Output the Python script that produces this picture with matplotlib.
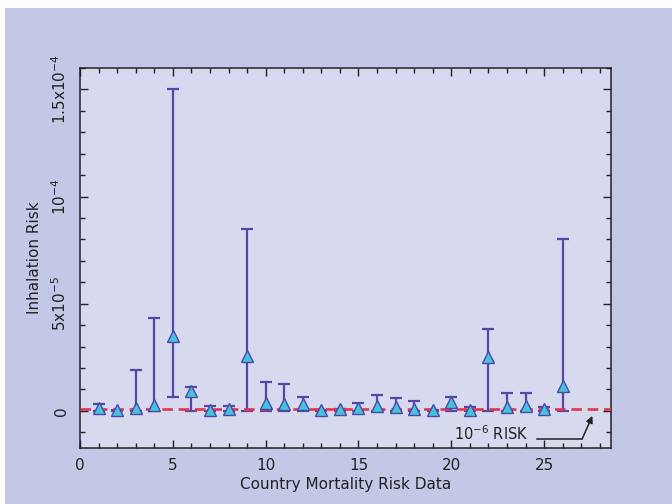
import matplotlib
matplotlib.use("Agg")
import matplotlib.pyplot as plt
from matplotlib.patches import Rectangle
from matplotlib.ticker import MultipleLocator, FixedLocator
import numpy as np

# Country index on the x axis
countries = list(range(1, 27))
# Central inhalation risk estimate (units of 1e-6)
central = [1.5, 0.6, 1.2, 2.8, 35.0, 9.3, 0.6, 0.8, 25.5, 3.5, 3.0, 3.3, 0.3,
           0.8, 1.4, 2.5, 1.9, 1.0, 0.3, 4.0, 0.4, 25.0, 2.0, 2.5, 1.0, 11.5]
# Upper bound of the range (units of 1e-6)
upper = [3.0, 0.6, 19.0, 43.5, 150.0, 11.0, 2.2, 2.2, 85.0, 13.5, 12.5, 6.7, 0.3,
         0.8, 3.7, 7.6, 6.0, 4.8, 0.3, 6.5, 2.0, 38.0, 8.4, 8.4, 2.0, 80.0]
# Lower bound of the range (units of 1e-6)
lower = [0.0, 0.0, 0.0, 0.0, 6.5, 0.0, 0.0, 0.0, 0.0, 0.0, 0.0, 0.0, 0.0,
         0.0, 0.0, 0.0, 0.0, 0.0, 0.0, 0.0, 0.0, 0.0, 0.0, 0.0, 0.0, 0.0]
risk_threshold = 1e-6

ytick_vals = [0, 5e-5, 1e-4, 1.5e-4]
ytick_labels = ["0", r"5x10$^{-5}$", r"10$^{-4}$", r"1.5x10$^{-4}$"]

plt.rcParams["font.family"] = ["DejaVu Sans"]
plt.rcParams["mathtext.fontset"] = "dejavusans"

fig = plt.figure(figsize=(6.72, 5.04), dpi=100)
fig.patch.set_facecolor("white")
fig.patches.append(Rectangle((5 / 672, 0), 1, 1 - 8 / 504, transform=fig.transFigure,
                             facecolor="#c4c7e5", edgecolor="none", zorder=-10))

ax = fig.add_axes([80 / 672, 1 - 448 / 504, (611 - 80) / 672, (448 - 68) / 504])
ax.set_facecolor("#d7daef")

x = np.array(countries, dtype=float)
c = np.array(central) * 1e-6
hi = np.array(upper) * 1e-6
lo = np.array(lower) * 1e-6

bar_color = "#5646a6"
ax.errorbar(x, c, yerr=[c - lo, hi - c], fmt="none", ecolor=bar_color,
            elinewidth=1.6, capsize=4.6, capthick=1.6, zorder=2)
ax.axhline(risk_threshold, color="#e2354e", lw=1.9, ls=(0, (4, 2.2)), zorder=3)
ax.plot(x, c, linestyle="none", marker="^", markersize=8.5,
        markerfacecolor="#45c3dc", markeredgecolor="#4a4aa4", markeredgewidth=1.0,
        zorder=4)

ax.set_xlim(0, 28.6)
ax.set_ylim(-1.73e-5, 1.6e-4)
ax.xaxis.set_major_locator(MultipleLocator(5))
ax.xaxis.set_minor_locator(MultipleLocator(1))
ax.yaxis.set_major_locator(FixedLocator(ytick_vals))
ax.yaxis.set_minor_locator(MultipleLocator(1e-5))
ax.set_yticklabels(ytick_labels, rotation=90, va="center")

ax.tick_params(which="both", direction="in", top=True, right=True,
               color="#222222", width=1.0, labelsize=11, labelcolor="#222222")
ax.tick_params(which="major", length=6)
ax.tick_params(which="minor", length=3.5)
ax.tick_params(axis="x", pad=7)
ax.tick_params(axis="y", pad=8)
for s in ax.spines.values():
    s.set_color("#222222")
    s.set_linewidth(1.1)

ax.set_xlabel("Country Mortality Risk Data", fontsize=11, color="#222222", labelpad=3)
ax.set_ylabel("Inhalation Risk", fontsize=11, color="#222222", labelpad=6)

# threshold callout
ax.text(20.15, -10.4e-6, r"10$^{-6}$ RISK", fontsize=10.5, color="#222222",
        ha="left", va="center")
ax.plot([24.6, 27.05], [-13.0e-6, -13.0e-6], color="#222222", lw=1.1)
ax.annotate("", xy=(27.6, -2.3e-6), xytext=(27.05, -13.0e-6),
            arrowprops=dict(arrowstyle="-|>", color="#222222", lw=1.1,
                            mutation_scale=10, shrinkA=0, shrinkB=0))

fig.savefig("out.png", dpi=100, facecolor=fig.get_facecolor())
